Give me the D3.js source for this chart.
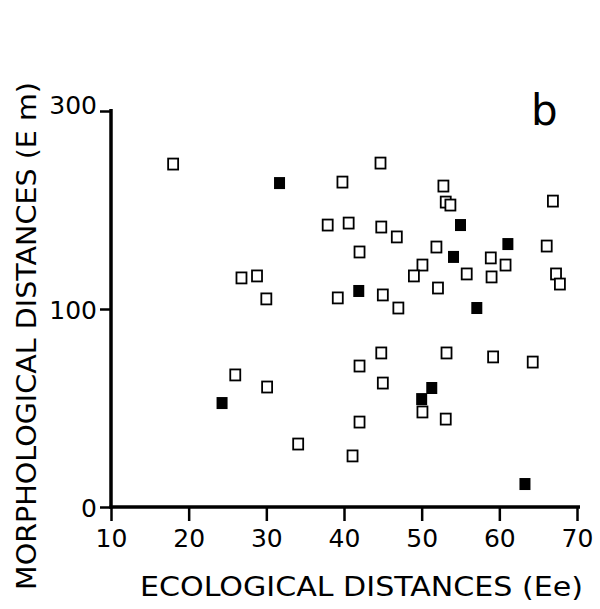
<!DOCTYPE html>
<html>
<head>
<meta charset="utf-8">
<script src="https://cdn.jsdelivr.net/npm/d3@7"></script>
<style>
  html, body { margin: 0; padding: 0; background: #fff; }
  svg { display: block; }
  text { font-family: "DejaVu Sans", "Liberation Sans", sans-serif; fill: #000; }
</style>
</head>
<body>
<svg id="chart" width="600" height="609"></svg>
<script>
// Ecological distance (Ee) vs morphological distance (Em), open = one group, filled = other
const openEe = [18.0, 37.9, 39.8, 40.6, 42.0, 44.7, 44.8, 46.8, 52.8, 53.1, 53.7, 51.9, 66.1, 66.9,
  58.9, 60.8, 50.1, 49.0, 55.8, 59.0, 67.3, 67.8, 45.0, 47.0, 52.1, 26.8, 28.8, 30.0, 39.2,
  26.0, 30.1, 34.1, 42.0, 44.8, 45.0, 42.0, 41.1, 53.2, 59.2, 64.3, 50.1, 53.1];
const openEm = [173.2, 142.4, 164.1, 143.4, 128.8, 173.7, 141.4, 136.4, 162.1, 154.0, 152.5, 131.3, 131.8, 154.5,
  125.8, 122.2, 122.2, 116.7, 117.7, 116.2, 117.7, 112.6, 107.1, 100.5, 110.6, 115.7, 116.7, 105.1, 105.6,
  66.7, 60.6, 31.8, 71.2, 77.8, 62.6, 42.9, 25.8, 77.8, 75.8, 73.2, 48.0, 44.4];
const filledEe = [31.7, 55.0, 61.1, 54.1, 41.9, 57.1, 24.3, 51.3, 50.0, 63.3];
const filledEm = [163.6, 142.4, 132.8, 126.3, 109.1, 100.5, 52.5, 60.1, 54.5, 11.6];

const xTicks = [10, 20, 30, 40, 50, 60, 70];
const yTicks = [0, 100, 200];
const yTickLabels = ["0", "100", "300"];

const svg = d3.select("#chart");
const x = d3.scaleLinear().domain([10, 70]).range([111, 577]);
const y = d3.scaleLinear().domain([0, 200]).range([507, 111]);

// axes
const xAxis = svg.append("g").attr("transform", `translate(0,${y(0)})`)
  .call(d3.axisBottom(x).tickValues(xTicks).tickSize(14).tickSizeOuter(0).tickPadding(8));
const yAxis = svg.append("g").attr("transform", `translate(${x(10)},0)`)
  .call(d3.axisLeft(y).tickValues(yTicks).tickSize(11).tickSizeOuter(0).tickPadding(3)
    .tickFormat((d, i) => yTickLabels[i]));

[xAxis, yAxis].forEach(g => {
  g.select(".domain").attr("stroke", "#000").attr("stroke-width", 3.5);
  g.selectAll(".tick line").attr("stroke", "#000").attr("stroke-width", 2.5);
  g.selectAll(".tick text").style("font-size", "25px").attr("fill", "#000");
});
xAxis.select(".domain").attr("d", `M${x(10) - 1.5},0H${x(70) + 3}`);
yAxis.select(".domain").attr("d", `M0,${y(0) + 1.5}V${y(200) - 2}`);
yAxis.selectAll(".tick text").attr("dy", "0.36em");
yAxis.selectAll(".tick").filter(d => d === 200).select("text").attr("dy", "0.1em");

// markers
const openPts = openEe.map((v, i) => [v, openEm[i]]);
const filledPts = filledEe.map((v, i) => [v, filledEm[i]]);

svg.append("g").selectAll("rect").data(openPts).join("rect")
  .attr("x", d => x(d[0]) - 5).attr("y", d => y(d[1]) - 5.5)
  .attr("width", 10).attr("height", 11)
  .attr("fill", "#fff").attr("stroke", "#000").attr("stroke-width", 1.8);

svg.append("g").selectAll("rect").data(filledPts).join("rect")
  .attr("x", d => x(d[0]) - 5.5).attr("y", d => y(d[1]) - 6)
  .attr("width", 11).attr("height", 12)
  .attr("fill", "#000");

// axis titles
svg.append("text")
  .attr("x", 140).attr("y", 596)
  .attr("textLength", 443).attr("lengthAdjust", "spacingAndGlyphs")
  .style("font-size", "26px")
  .text("ECOLOGICAL DISTANCES (Ee)");

svg.append("text")
  .attr("transform", "translate(36,590) rotate(-90)")
  .attr("textLength", 508).attr("lengthAdjust", "spacingAndGlyphs")
  .style("font-size", "26px")
  .text("MORPHOLOGICAL DISTANCES (E m)");

// panel letter
svg.append("text")
  .attr("x", 531).attr("y", 125)
  .style("font-size", "42px")
  .text("b");
</script>
</body>
</html>
